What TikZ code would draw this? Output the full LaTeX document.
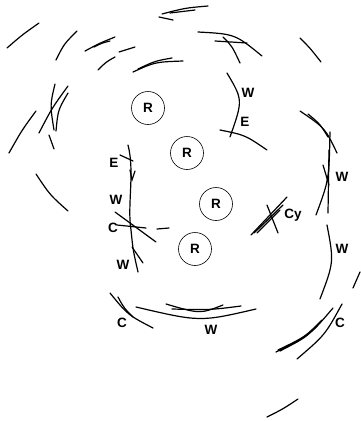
\documentclass[tikz,border=0pt]{standalone}
\usepackage{fontspec}
\setmainfont{Liberation Sans}
\begin{document}
\begin{tikzpicture}[x=1pt,y=-1pt,
  stroke/.style={line width=1.2pt,line cap=round},
  lab/.style={font=\bfseries\fontsize{13.5}{13.5}\selectfont,inner sep=0pt},
  rbox/.style={circle,draw,line width=0.6pt,minimum size=33pt,inner sep=0pt,font=\bfseries\fontsize{13.5}{13.5}\selectfont}]
\useasboundingbox (0,0) rectangle (360,421);
% R circles
\node[rbox] (r1) at (148,108) {R};
\node[rbox] (r2) at (187,153) {R};
\node[rbox] (r3) at (216,204) {R};
\node[rbox] (r4) at (195,249) {R};
% labels
\node[lab] (w1) at (248,93) {W};
\node[lab] (e1) at (245,122) {E};
\node[lab] (e2) at (114,163) {E};
\node[lab] (w2) at (116,200) {W};
\node[lab] (c1) at (113,228) {C};
\node[lab] (w3) at (123,265) {W};
\node[lab] (w4) at (342,177) {W};
\node[lab] (w5) at (342,249) {W};
\node[lab] (cy) at (293,215) {Cy};
\node[lab] (c2) at (122,323) {C};
\node[lab] (w6) at (211,330) {W};
\node[lab] (c3) at (340,323) {C};
% strokes
\begin{scope}[stroke]
\draw (7,48) .. controls (22,35) .. (39,23);
\draw (56,60) .. controls (64,44) .. (77,31);
\draw (85,51) .. controls (100,43) .. (115,37);
\draw (94,47) .. controls (102,43) .. (110,41);
\draw (98,70) .. controls (106,62) .. (115,57);
\draw (119,52) .. controls (127,49) .. (135,47);
\draw (133,72) .. controls (155,62) .. (183,61);
\draw (138,69) .. controls (155,61) .. (172,58);
\draw (162,14) .. controls (185,8) .. (208,6);
\draw (170,13) -- (195,10);
\draw (159,17) -- (173,20);
\draw (198,32) .. controls (235,34) .. (262,56);
\draw (215,41) -- (247,43);
\draw (223,37) .. controls (232,46) .. (240,63);
\draw (300,38) .. controls (310,48) .. (321,62);
\draw (227,73) .. controls (243,100) .. (230,137);
\draw (220,130) .. controls (245,135) .. (267,150);
% right side
\draw (300,111) .. controls (325,128) .. (337,153);
\draw (308,114) .. controls (320,124) .. (328,137);
\draw (330,132) .. controls (329,180) .. (316,215);
\draw (329,150) -- (328,213);
\draw (323,165) -- (329,185);
% Cy
\draw (251,235) -- (287,197);
\draw (254,233) -- (283,205);
\draw (257,233) -- (280,210);
\draw (267,205) -- (278,233);
\draw (327,225) .. controls (334,262) .. (320,299);
\draw (353,288) -- (360,272);
% left arc
\draw (128,145) .. controls (135,172) and (127,205) .. (131,230) .. controls (133,250) .. (138,272);
\draw (120,155) -- (133,161);
\draw (130,170) -- (132,180) -- (135,171);
\draw (115,212) -- (156,242);
\draw (117,225) -- (146,228);
\draw (157,229) -- (169,228);
\draw (132,247) -- (143,263);
% far left
\draw (9,153) .. controls (22,130) .. (36,111);
\draw (39,133) .. controls (52,108) .. (68,86);
\draw (55,84) .. controls (50,105) .. (54,130);
\draw (68,93) .. controls (58,110) .. (56,131);
\draw (49,135) -- (54,149);
\draw (36,174) .. controls (50,195) .. (68,211);
% bottom
\draw (110,293) .. controls (128,315) .. (153,328);
\draw (118,297) .. controls (124,308) .. (133,317);
\draw (136,307) .. controls (200,322) .. (256,309);
\draw (166,304) .. controls (200,314) .. (223,305);
\draw (172,309) .. controls (210,310) .. (241,306);
\draw (276,352) .. controls (310,335) .. (333,308);
\draw (278,350) .. controls (305,337) .. (322,320);
\draw (280,351) .. controls (305,338) .. (318,325);
\draw (297,359) .. controls (325,335) .. (342,304);
\draw (267,417) .. controls (283,409) .. (298,399);
\end{scope}
\end{tikzpicture}
\end{document}
